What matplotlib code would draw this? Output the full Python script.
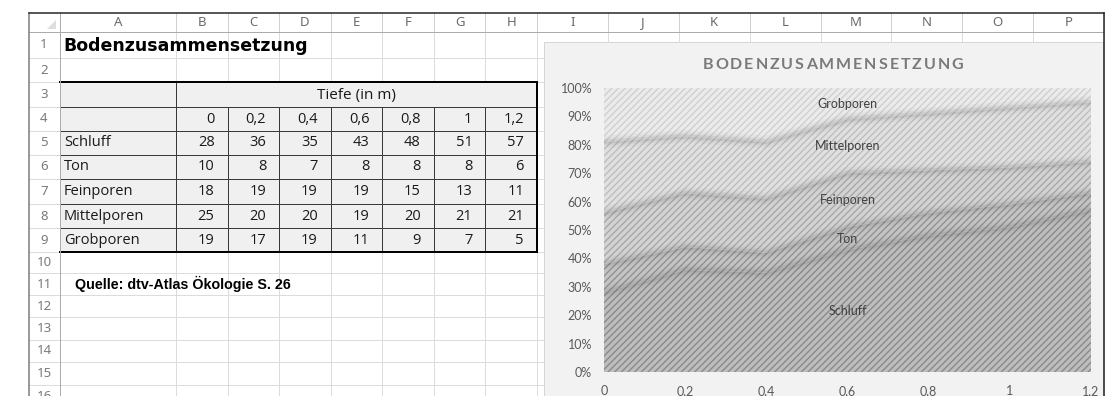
import matplotlib
matplotlib.use("Agg")
import matplotlib.pyplot as plt
from matplotlib.patches import Rectangle, Polygon
import numpy as np

# Bodenzusammensetzung nach Tiefe (Anteile in %)
depths = ["0", "0,2", "0,4", "0,6", "0,8", "1", "1,2"]
series_names = ["Schluff", "Ton", "Feinporen", "Mittelporen", "Grobporen"]
schluff = [28, 36, 35, 43, 48, 51, 57]
ton = [10, 8, 7, 8, 8, 8, 6]
feinporen = [18, 19, 19, 19, 15, 13, 11]
mittelporen = [25, 20, 20, 19, 20, 21, 21]
grobporen = [19, 17, 19, 11, 9, 7, 5]

sheet_title = "Bodenzusammensetzung"
depth_header = "Tiefe (in m)"
source_note = "Quelle: dtv-Atlas Ökologie S. 26"
chart_title = "BODENZUSAMMENSETZUNG"
col_letters = list("ABCDEFGHIJKLMNOP")
pct_labels = ["0%", "10%", "20%", "30%", "40%", "50%", "60%", "70%", "80%", "90%", "100%"]

layers = [schluff, ton, feinporen, mittelporen, grobporen]

W, H = 1116, 396
PX = 0.72  # one pixel in points at 100 dpi

# sheet geometry in pixels
col_edges = [60, 176] + list(np.linspace(176, 537, 8)[1:]) + list(np.linspace(537, 1104, 9)[1:])
row_edges = [32, 58, 82, 107, 131, 155, 179, 204, 228, 252, 273, 295, 317, 340, 362, 385, 407]

fig = plt.figure(figsize=(W / 100, H / 100), dpi=100)
sheet = fig.add_axes([0, 0, 1, 1])
sheet.set_xlim(0, W)
sheet.set_ylim(H, 0)
sheet.axis("off")

cell_font = "Open Sans"
chart_font = "Lato"
head_font = "Noto Sans"

# table background
sheet.add_patch(Rectangle((60, 82), 477, 170, facecolor="#f0f0f0", edgecolor="none", zorder=1))

# light grid
grid_c = "#dcdcdc"
for xe in col_edges[1:]:
    sheet.plot([xe, xe], [32, H], color=grid_c, lw=PX, zorder=0.5)
    sheet.plot([xe, xe], [13, 32], color="#d0d0d0", lw=PX, zorder=0.5)
for ye in row_edges[1:]:
    sheet.plot([29, 1104], [ye, ye], color=grid_c, lw=PX, zorder=0.5)

# header separators and outer frame
sheet.plot([29, 1104], [32, 32], color="#ababab", lw=PX, zorder=3)
sheet.plot([60, 60], [13, H], color="#ababab", lw=PX, zorder=3)
sheet.plot([29, 29], [13, H], color="#7a7a7a", lw=1.5 * PX, zorder=3)
sheet.plot([29, 1104], [13, 13], color="#222222", lw=1.5 * PX, zorder=3)
sheet.add_patch(Polygon([[56, 20], [56, 29], [47, 29]], closed=True,
                        facecolor="#dedede", edgecolor="none", zorder=3))

# column letters and row numbers
for i, letter in enumerate(col_letters):
    xc = (col_edges[i] + col_edges[i + 1]) / 2
    sheet.text(xc, 22.5, letter, ha="center", va="center", fontsize=9.5,
               color="#6a6a6a", family=head_font, zorder=3)
for r in range(len(row_edges) - 1):
    yc = (row_edges[r] + row_edges[r + 1]) / 2
    sheet.text(44, yc, str(r + 1), ha="center", va="center", fontsize=9.5,
               color="#7a7a7a", family=head_font, zorder=3)

# table lines
dark = "#3a3a3a"
for ye in row_edges[4:9]:
    sheet.plot([60, 537], [ye, ye], color=dark, lw=PX, zorder=2)
sheet.plot([60, 537], [107, 107], color=dark, lw=PX, zorder=2)
sheet.plot([60, 60], [82, 252], color=dark, lw=PX, zorder=2)
sheet.plot([176, 176], [82, 252], color=dark, lw=PX, zorder=2)
for xe in col_edges[2:8]:
    sheet.plot([xe, xe], [107, 252], color=dark, lw=PX, zorder=2)
for xs, ys in [([60, 537], [82, 82]), ([60, 537], [252, 252]), ([537, 537], [82, 252])]:
    sheet.plot(xs, ys, color="black", lw=2 * PX, zorder=2.5, solid_capstyle="projecting")

# cell contents
sheet.text(63, 46, sheet_title, ha="left", va="center", fontsize=12.5,
           fontweight="bold", family="DejaVu Sans", color="black", zorder=3)
sheet.text((176 + 537) / 2, 95, depth_header, ha="center", va="center",
           fontsize=11, family=cell_font, color="#1a1a1a", zorder=3)
for j, d in enumerate(depths):
    sheet.text(col_edges[j + 2] - 13, 119.5, d, ha="right", va="center",
               fontsize=10.5, family=cell_font, color="#1a1a1a", zorder=3)
for i, (name, vals) in enumerate(zip(series_names, layers)):
    yc = (row_edges[i + 4] + row_edges[i + 5]) / 2
    sheet.text(64, yc, name, ha="left", va="center", fontsize=10.5,
               family=cell_font, color="#1a1a1a", zorder=3)
    for j, v in enumerate(vals):
        sheet.text(col_edges[j + 2] - 13, yc, str(v), ha="right", va="center",
                   fontsize=10.5, family=cell_font, color="#1a1a1a", zorder=3)
sheet.text(75, 283.5, source_note, ha="left", va="center", fontsize=10.3,
           fontweight="bold", family="Liberation Sans", color="black", zorder=3)

# chart frame
sheet.add_patch(Rectangle((544, 42), 559, 360, facecolor="#f2f2f2",
                          edgecolor="#d6d6d6", lw=PX, zorder=5))
sheet.plot([1104, 1104], [13, H], color="#222222", lw=1.5 * PX, zorder=10)

# spaced-out chart title
renderer = fig.canvas.get_renderer()
gap = 2.0
letters = []
for ch in chart_title:
    t = sheet.text(0, 65, ch, ha="left", va="center", fontsize=11.5,
                   fontweight="bold", family=chart_font, color="#7a7a7a", zorder=6)
    letters.append((t, t.get_window_extent(renderer).width))
total = sum(w for _, w in letters) + gap * (len(letters) - 1)
xpos = 833 - total / 2
for t, w in letters:
    t.set_x(xpos)
    xpos += w + gap

# 100% stacked area chart
plt.rcParams["hatch.linewidth"] = 1.0
ax = fig.add_axes([604 / W, (H - 372) / H, 487 / W, 284 / H])
ax.set_facecolor("none")
x = np.arange(len(depths))
vals = np.array(layers, dtype=float)
fracs = vals / vals.sum(axis=0)
tops = np.cumsum(fracs, axis=0)
bottoms = tops - fracs

styles = [("#bdbdbd", "#8a8a8a"),
          ("#c4c4c4", "#929292"),
          ("#d3d3d3", "#a8a8a8"),
          ("#e0e0e0", "#bdbdbd"),
          ("#ebebeb", "#d0d0d0")]
for i, (face, stripe) in enumerate(styles):
    ax.fill_between(x, bottoms[i], tops[i], facecolor=face, edgecolor=stripe,
                    hatch="/////", linewidth=0, zorder=1)

# soft shaded edges along each boundary
for i in range(len(layers) - 1):
    for lw, a in [(9, 0.04), (5.5, 0.06), (3, 0.09)]:
        ax.plot(x, tops[i], color="#505050", lw=lw, alpha=a, zorder=2,
                solid_capstyle="butt")

# series names inside the bands
mid = 3
for i, name in enumerate(series_names):
    ax.text(x[mid], bottoms[i][mid] + fracs[i][mid] / 2, name, ha="center",
            va="center", fontsize=9, family=chart_font, color="#404040", zorder=4)

ax.set_xlim(0, len(depths) - 1)
ax.set_ylim(0, 1)
ax.set_xticks(x, depths)
ax.set_yticks(np.linspace(0, 1, 11), pct_labels)
ax.tick_params(axis="both", length=0, labelsize=9, labelcolor="#595959")
ax.tick_params(axis="y", pad=8.5)
ax.tick_params(axis="x", pad=9.5)
for lbl in ax.get_xticklabels() + ax.get_yticklabels():
    lbl.set_family(chart_font)
for s in ax.spines.values():
    s.set_visible(False)

fig.savefig("out.png", dpi=100)
